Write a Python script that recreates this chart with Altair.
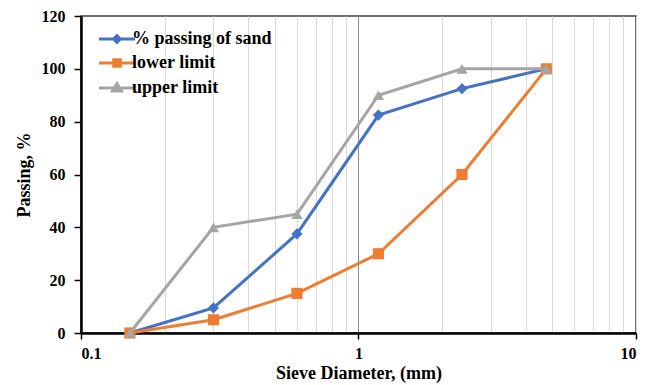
import altair as alt
import pandas as pd

# Sieve openings (mm) and cumulative percent passing for each curve
sieve_mm = [0.15, 0.3, 0.6, 1.18, 2.36, 4.75]
sand_passing = [0, 9.5, 37.5, 82.5, 92.5, 100]
lower_limit = [0, 5, 15, 30, 60, 100]
upper_limit = [0, 40, 45, 90, 100, 100]

series_names = ["% passing of sand", "lower limit", "upper limit"]
series_colors = ["#4472C4", "#ED7D31", "#A5A5A5"]
series_shapes = ["diamond", "square", "triangle-up"]
# legend glyphs: a short line segment with the series marker in the middle
# (an inner copy of each marker closes the hole left by the thick outline)
legend_glyphs = [
    "M-3,0H3M0,-0.55L0.55,0L0,0.55L-0.55,0ZM0,-0.22L0.22,0L0,0.22L-0.22,0Z",
    "M-3,0H3M-0.55,-0.55H0.55V0.55H-0.55ZM-0.22,-0.22H0.22V0.22H-0.22Z",
    "M-3,0H3M0,-0.72L0.75,0.5H-0.75ZM0,-0.25L0.28,0.22H-0.28Z",
]

# log-axis gridlines (minor decades) and labelled ticks
x_grid = [0.1, 0.2, 0.3, 0.4, 0.5, 0.6, 0.7, 0.8, 0.9,
          1.0, 2.0, 3.0, 4.0, 5.0, 6.0, 7.0, 8.0, 9.0, 10.0]
y_ticks = [0, 20, 40, 60, 80, 100, 120]

rows = []
for name, vals in zip(series_names, [sand_passing, lower_limit, upper_limit]):
    for d, p in zip(sieve_mm, vals):
        rows.append({"sieve": d, "passing": p, "series": name})
df = pd.DataFrame(rows)

FONT = "Liberation Serif"

x_enc = alt.X(
    "sieve:Q",
    scale=alt.Scale(type="log", domain=[0.1, 10]),
    axis=alt.Axis(
        values=x_grid,
        title="Sieve Diameter, (mm)",
        labelExpr="datum.value === 0.1 ? '0.1' : (datum.value === 1 ? '1' : (datum.value === 10 ? '10' : ''))",
        grid=True,
        gridColor={"condition": {"test": "datum.value === 1", "value": "#8c8c8c"}, "value": "#d9d9d9"},
        gridWidth=1,
        tickOpacity={"condition": {"test": "datum.value === 0.1 || datum.value === 1 || datum.value === 10", "value": 1}, "value": 0},
        tickColor="#000000",
        tickSize=6,
        tickWidth=1.5,
        labelPadding=6,
        titlePadding=3,
    ),
)
y_enc = alt.Y(
    "passing:Q",
    scale=alt.Scale(domain=[0, 120], nice=False),
    axis=alt.Axis(
        values=y_ticks,
        title="Passing, %",
        grid=False,
        tickColor="#000000",
        tickSize=7,
        tickWidth=1.5,
        labelPadding=9,
        titlePadding=8,
    ),
)

base = alt.Chart(df)

# each curve: its line, then its markers on top
layers = []
for name, col, shape in zip(series_names, series_colors, series_shapes):
    sub = base.transform_filter(alt.datum.series == name)
    line = sub.mark_line(strokeWidth=3, color=col).encode(x=x_enc, y=y_enc)
    pts = sub.mark_point(filled=True, opacity=1, shape=shape, size=125, color=col).encode(
        x=x_enc, y=y_enc
    )
    layers += [line, pts]

legend = alt.Legend(
    title=None,
    orient="none",
    legendX=27,
    legendY=14,
    padding=0,
    symbolSize=144,
    symbolStrokeWidth=3,
    symbolOpacity=1,
    labelFont=FONT,
    labelFontSize=18,
    labelFontWeight="bold",
    labelColor="#000000",
    labelOffset=6,
    rowPadding=4,
)

# legend-only layer: no rows survive the filter, entries come from the scale domains
legend_layer = base.transform_filter("false").mark_point(filled=False, opacity=1).encode(
    x=x_enc, y=y_enc,
    color=alt.Color("series:N", scale=alt.Scale(domain=series_names, range=series_colors), legend=legend),
    shape=alt.Shape("series:N", scale=alt.Scale(domain=series_names, range=legend_glyphs), legend=legend),
)

chart = (
    alt.layer(*layers, legend_layer)
    .properties(
        width=555,
        height=317,
        background="#ffffff",
        autosize=alt.AutoSizeParams(type="none"),
        padding={"left": 81, "top": 16, "right": 21, "bottom": 52},
    )
    .configure_view(stroke="#404040", strokeWidth=1.5)
    .configure_axis(
        labelFont=FONT,
        labelFontSize=16,
        labelFontWeight="bold",
        labelColor="#000000",
        titleFont=FONT,
        titleFontSize=18,
        titleFontWeight="bold",
        titleColor="#000000",
        domainColor="#000000",
        domainWidth=2.5,
    )
)

chart.save("out.html", embed_options={"renderer": "svg", "actions": False})
